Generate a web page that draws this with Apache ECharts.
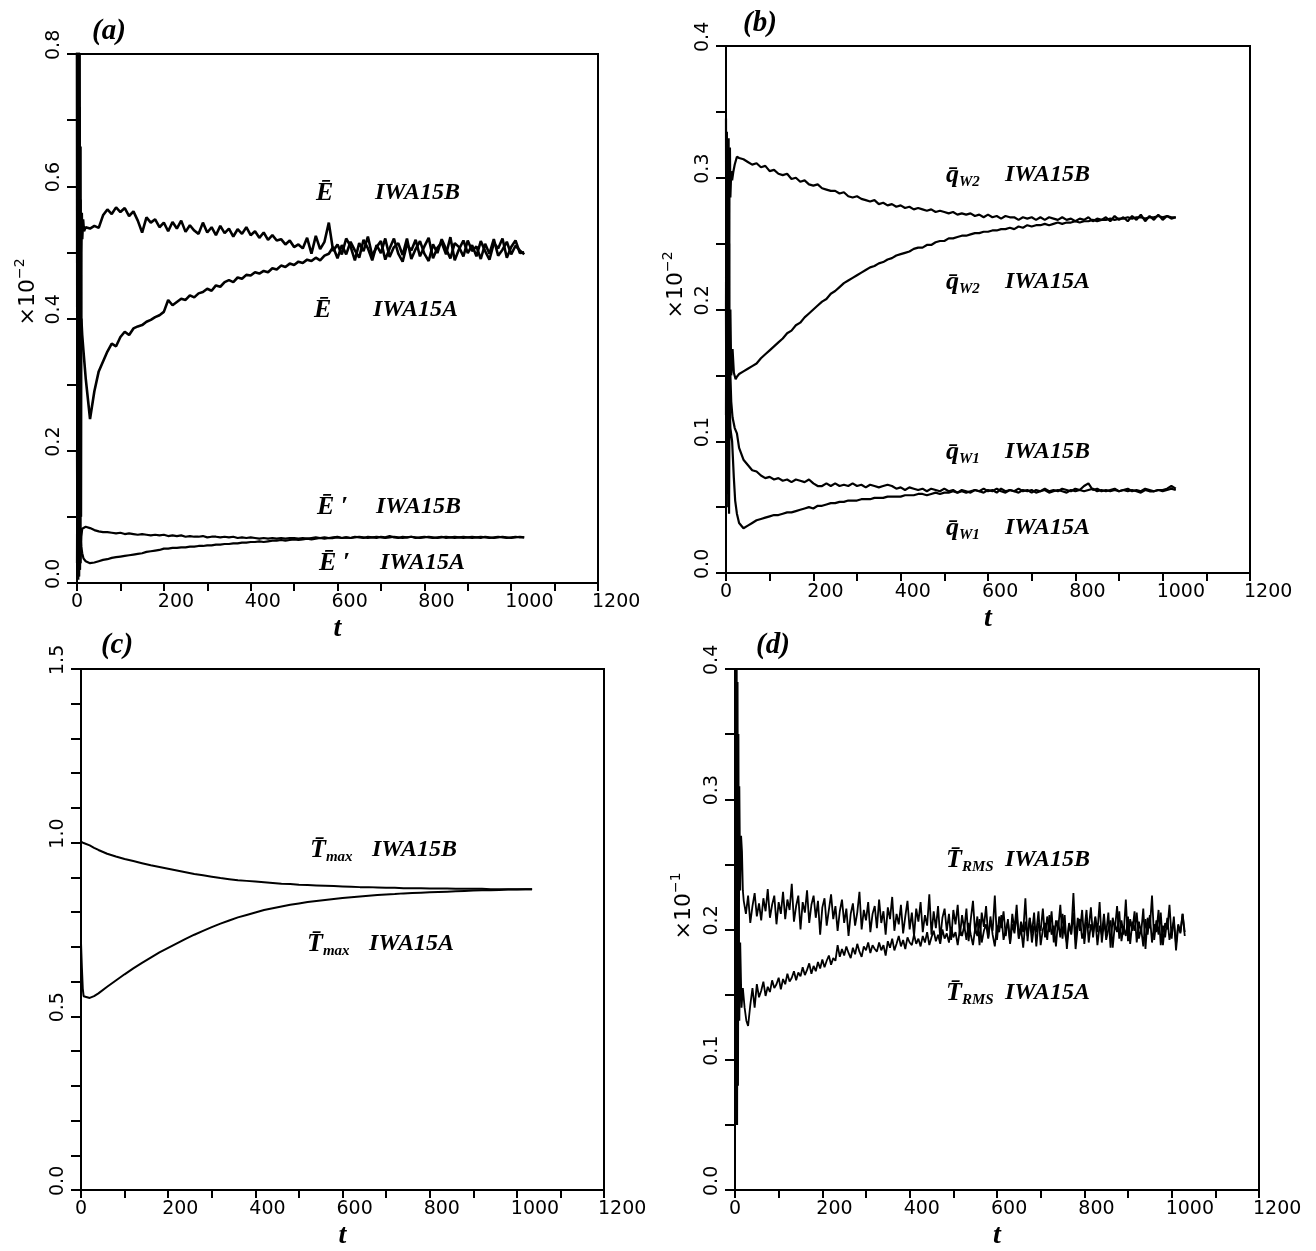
<!DOCTYPE html>
<html>
<head>
<meta charset="utf-8">
<script src="https://cdn.jsdelivr.net/npm/echarts@6/dist/echarts.min.js"></script>
<style>
  html, body { margin: 0; padding: 0; background: #fff; }
  #chart { width: 1316px; height: 1251px; }
</style>
</head>
<body>
<div id="chart"></div>
<script>
// ---------------- (a) mean kinetic energy E and E' ----------------
const ENERGY_T0 = 20, ENERGY_DT = 10;
const eMeanB_head = [[0,1.2],[1,0.05],[2,0.98],[3,0.02],[4,0.92],[5,0.04],[6,0.8],[7,0.03],[8,0.66],[9,0.1],[10,0.5],[11,0.56],[12,0.52],[14,0.55],[16,0.532]];
const eMeanB = [
  0.538,0.536,0.540,0.537,0.556,0.565,0.558,0.568,0.561,0.567,
  0.555,0.562,0.548,0.530,0.553,0.545,0.550,0.538,0.545,0.532,
  0.546,0.536,0.548,0.531,0.541,0.533,0.528,0.545,0.530,0.538,
  0.526,0.540,0.529,0.536,0.524,0.535,0.528,0.538,0.526,0.532,
  0.522,0.530,0.519,0.526,0.518,0.520,0.512,0.518,0.508,0.512,
  0.506,0.522,0.498,0.525,0.505,0.516,0.545,0.502,0.512,0.497,
  0.521,0.509,0.488,0.514,0.502,0.524,0.495,0.508,0.517,0.489,
  0.506,0.521,0.498,0.486,0.512,0.503,0.519,0.494,0.509,0.522,
  0.491,0.507,0.515,0.497,0.523,0.488,0.505,0.518,0.499,0.511,
  0.494,0.517,0.502,0.489,0.514,0.506,0.521,0.492,0.508,0.518,
  0.499,0.500
];
const eMeanA_head = [[0,1.1],[1,0.02],[2,0.9],[3,0.01],[4,0.86],[5,0.02],[6,0.72],[7,0.04],[8,0.58],[9,0.39],[10,0.4],[12,0.375],[15,0.35]];
const eMeanA = [
  0.310,0.248,0.290,0.320,0.335,0.350,0.362,0.358,0.372,0.380,
  0.375,0.385,0.388,0.390,0.395,0.398,0.402,0.405,0.410,0.428,
  0.420,0.425,0.430,0.428,0.435,0.432,0.438,0.440,0.445,0.442,
  0.450,0.448,0.455,0.458,0.455,0.462,0.460,0.466,0.465,0.470,
  0.468,0.472,0.470,0.476,0.474,0.480,0.478,0.483,0.481,0.486,
  0.484,0.489,0.487,0.492,0.488,0.495,0.498,0.508,0.491,0.511,
  0.497,0.516,0.503,0.492,0.519,0.506,0.488,0.511,0.499,0.521,
  0.493,0.508,0.514,0.496,0.521,0.490,0.505,0.517,0.498,0.487,
  0.512,0.499,0.520,0.505,0.491,0.514,0.508,0.494,0.518,0.502,
  0.509,0.490,0.513,0.498,0.520,0.495,0.504,0.516,0.497,0.510,
  0.503,0.497
];
const ePrimeB_head = [[0,0.03],[1,0.3],[2,0.02],[3,0.25],[4,0.03],[5,0.18],[6,0.02],[7,0.12],[8,0.03],[10,0.07],[12,0.082],[15,0.085]];
const ePrimeB = [
  0.085,0.083,0.080,0.078,0.077,0.077,0.076,0.075,0.076,0.074,
  0.075,0.074,0.073,0.074,0.073,0.072,0.073,0.072,0.073,0.071,
  0.072,0.071,0.072,0.070,0.071,0.070,0.070,0.071,0.069,0.070,
  0.070,0.069,0.070,0.069,0.070,0.068,0.069,0.068,0.069,0.068,
  0.067,0.068,0.067,0.068,0.067,0.068,0.067,0.068,0.068,0.067,
  0.068,0.067,0.068,0.069,0.068,0.069,0.068,0.069,0.070,0.068,
  0.069,0.068,0.070,0.069,0.068,0.070,0.069,0.068,0.070,0.069,
  0.071,0.069,0.068,0.070,0.069,0.070,0.068,0.069,0.070,0.069,
  0.068,0.069,0.070,0.068,0.069,0.070,0.069,0.068,0.069,0.070,
  0.069,0.068,0.070,0.069,0.068,0.069,0.070,0.069,0.068,0.069,
  0.070,0.069
];
const ePrimeA_head = [[0,0.2],[1,0.01],[2,0.15],[3,0.005],[4,0.12],[5,0.01],[6,0.09],[7,0.02],[8,0.07],[10,0.055],[12,0.045],[15,0.037]];
const ePrimeA = [
  0.033,0.030,0.031,0.033,0.035,0.036,0.038,0.039,0.040,0.041,
  0.042,0.043,0.044,0.045,0.047,0.048,0.049,0.050,0.052,0.052,
  0.053,0.053,0.054,0.054,0.055,0.055,0.056,0.056,0.057,0.057,
  0.058,0.058,0.059,0.059,0.060,0.060,0.061,0.061,0.062,0.062,
  0.063,0.062,0.063,0.064,0.064,0.065,0.064,0.065,0.066,0.065,
  0.066,0.067,0.066,0.067,0.068,0.067,0.068,0.068,0.069,0.068,
  0.069,0.068,0.069,0.070,0.069,0.068,0.069,0.070,0.069,0.068,
  0.069,0.070,0.069,0.068,0.069,0.070,0.069,0.068,0.069,0.070,
  0.069,0.068,0.069,0.070,0.069,0.068,0.069,0.070,0.069,0.068,
  0.069,0.070,0.069,0.068,0.069,0.070,0.069,0.068,0.069,0.070,
  0.069,0.069
];

// ---------------- (b) wall heat fluxes q_w2 and q_w1 ----------------
const FLUX_T0 = 30, FLUX_DT = 10;
const qw2B_head = [[0,0.345],[1,0.1],[2,0.335],[3,0.12],[4,0.32],[5,0.14],[6,0.33],[7,0.16],[8,0.31],[9,0.323],[10,0.285],[12,0.305],[14,0.298],[17,0.305],[20,0.31],[25,0.316]];
const qw2B = [
  0.315,0.314,0.312,0.310,0.311,0.308,0.309,0.305,0.306,0.303,
  0.302,0.303,0.299,0.300,0.297,0.298,0.295,0.294,0.295,0.292,
  0.291,0.290,0.290,0.288,0.289,0.286,0.285,0.286,0.284,0.283,
  0.282,0.283,0.280,0.281,0.279,0.280,0.278,0.279,0.277,0.278,
  0.276,0.277,0.276,0.275,0.276,0.274,0.275,0.274,0.273,0.274,
  0.272,0.273,0.272,0.273,0.271,0.272,0.270,0.272,0.270,0.271,
  0.269,0.271,0.270,0.270,0.268,0.270,0.269,0.270,0.268,0.270,
  0.268,0.270,0.269,0.268,0.270,0.268,0.269,0.267,0.269,0.268,
  0.270,0.267,0.269,0.268,0.270,0.267,0.271,0.268,0.270,0.267,
  0.271,0.268,0.272,0.267,0.271,0.268,0.272,0.268,0.271,0.269,
  0.270
];
const qw2A_head = [[0,0.2],[1,0.33],[2,0.13],[3,0.3],[4,0.12],[5,0.28],[6,0.13],[7,0.25],[8,0.14],[10,0.2],[12,0.15],[15,0.17],[18,0.152],[22,0.147],[25,0.149]];
const qw2A = [
  0.151,0.153,0.155,0.157,0.159,0.163,0.166,0.169,0.172,0.175,
  0.178,0.182,0.184,0.188,0.190,0.194,0.197,0.200,0.203,0.206,
  0.208,0.212,0.214,0.217,0.220,0.222,0.224,0.226,0.228,0.230,
  0.232,0.233,0.235,0.236,0.238,0.239,0.241,0.242,0.243,0.244,
  0.246,0.247,0.247,0.249,0.249,0.251,0.252,0.252,0.254,0.254,
  0.255,0.256,0.256,0.257,0.258,0.258,0.259,0.259,0.260,0.260,
  0.261,0.261,0.262,0.261,0.263,0.262,0.264,0.263,0.264,0.264,
  0.265,0.264,0.265,0.266,0.265,0.266,0.266,0.267,0.266,0.267,
  0.267,0.268,0.267,0.268,0.268,0.269,0.268,0.269,0.269,0.270,
  0.269,0.270,0.270,0.269,0.270,0.270,0.271,0.270,0.271,0.270,
  0.270
];
const qw1B_head = [[0,0.12],[1,0.25],[2,0.1],[3,0.22],[4,0.09],[5,0.2],[6,0.1],[7,0.18],[8,0.12],[10,0.15],[12,0.13],[15,0.118],[20,0.11],[25,0.106]];
const qw1B = [
  0.095,0.086,0.082,0.078,0.077,0.074,0.072,0.073,0.071,0.072,
  0.070,0.071,0.069,0.071,0.070,0.069,0.071,0.068,0.066,0.066,
  0.068,0.066,0.068,0.066,0.067,0.066,0.068,0.066,0.067,0.065,
  0.067,0.066,0.065,0.066,0.067,0.066,0.064,0.065,0.063,0.065,
  0.064,0.063,0.064,0.062,0.064,0.063,0.062,0.064,0.062,0.063,
  0.061,0.063,0.062,0.061,0.063,0.062,0.064,0.062,0.063,0.061,
  0.064,0.062,0.063,0.062,0.064,0.062,0.063,0.061,0.063,0.062,
  0.064,0.062,0.063,0.062,0.064,0.063,0.062,0.064,0.063,0.066,
  0.068,0.063,0.064,0.062,0.063,0.062,0.063,0.062,0.063,0.062,
  0.063,0.062,0.061,0.063,0.062,0.062,0.063,0.063,0.064,0.066,
  0.064
];
const qw1A_head = [[0,0.2],[1,0.08],[2,0.19],[3,0.06],[4,0.17],[5,0.05],[6,0.15],[7,0.045],[8,0.13],[10,0.11],[14,0.1],[18,0.072],[21,0.055],[25,0.045]];
const qw1A = [
  0.038,0.034,0.036,0.038,0.040,0.041,0.042,0.043,0.044,0.044,
  0.045,0.046,0.046,0.047,0.048,0.049,0.050,0.049,0.051,0.051,
  0.052,0.053,0.053,0.054,0.054,0.055,0.055,0.055,0.056,0.056,
  0.056,0.057,0.057,0.057,0.058,0.058,0.058,0.058,0.059,0.059,
  0.059,0.060,0.060,0.059,0.060,0.061,0.060,0.061,0.061,0.062,
  0.061,0.062,0.061,0.062,0.063,0.062,0.061,0.063,0.062,0.064,
  0.062,0.061,0.063,0.062,0.061,0.063,0.062,0.063,0.061,0.062,
  0.063,0.061,0.062,0.063,0.062,0.061,0.063,0.062,0.063,0.062,
  0.063,0.064,0.062,0.063,0.062,0.063,0.064,0.062,0.063,0.064,
  0.062,0.063,0.062,0.064,0.063,0.062,0.063,0.062,0.063,0.064,
  0.063
];

// ---------------- (c) maximum temperature ----------------
const tmaxTimes = [0,2,4,6,10,20,30,40,
  60,80,100,120,140,160,180,200,220,240,260,280,300,320,340,360,380,400,420,440,460,480,
  500,520,540,560,580,600,620,640,660,680,700,720,740,760,780,800,820,840,860,880,
  900,920,940,960,980,1000,1020,1035];
const tmaxB = [1.003,1.002,1.000,0.999,0.997,0.992,0.985,0.979,
  0.968,0.960,0.953,0.947,0.941,0.935,0.930,0.925,0.920,0.915,0.910,0.906,0.902,0.898,0.895,0.892,0.890,0.888,0.886,0.884,0.882,0.881,
  0.879,0.878,0.877,0.876,0.875,0.874,0.873,0.872,0.872,0.871,0.870,0.870,0.869,0.869,0.869,0.868,0.868,0.868,0.867,0.867,
  0.867,0.867,0.866,0.866,0.866,0.866,0.866,0.866];
const tmaxA = [0.710,0.640,0.580,0.558,0.553,0.553,0.558,0.566,
  0.585,0.603,0.621,0.638,0.654,0.669,0.684,0.697,0.710,0.723,0.735,0.746,0.757,0.767,0.776,0.785,0.792,0.799,0.806,0.811,0.816,0.821,
  0.825,0.829,0.832,0.835,0.838,0.841,0.843,0.845,0.847,0.849,0.851,0.852,0.854,0.855,0.856,0.857,0.858,0.859,0.860,0.861,
  0.862,0.863,0.863,0.864,0.865,0.865,0.866,0.866];

// ---------------- (d) RMS temperature ----------------
const RMS_DT = 5;
const rmsB_T0 = 20;
const rmsB_head = [[0,0.45],[1,0.08],[2,0.43],[3,0.1],[4,0.41],[5,0.12],[6,0.39],[7,0.15],[8,0.35],[9,0.18],[10,0.31],[12,0.23],[14,0.272],[16,0.26],[18,0.23]];
const rmsB = [
  0.222,0.212,0.226,0.205,0.218,0.228,0.210,0.220,0.207,0.224,0.214,0.231,0.209,0.219,0.226,0.204,0.221,0.212,0.229,0.208,
  0.223,0.215,0.235,0.206,0.218,0.226,0.200,0.221,0.213,0.230,0.205,0.219,0.226,0.209,0.222,0.196,0.217,0.224,0.203,0.215,
  0.227,0.208,0.218,0.199,0.214,0.223,0.205,0.216,0.195,0.212,0.220,0.203,0.213,0.229,0.200,0.215,0.207,0.221,0.198,0.212,
  0.218,0.201,0.223,0.205,0.214,0.196,0.217,0.208,0.225,0.199,0.212,0.204,0.219,0.197,0.210,0.222,0.200,0.213,0.195,0.216,
  0.206,0.221,0.198,0.211,0.203,0.227,0.196,0.214,0.201,0.218,0.193,0.209,0.216,0.199,0.212,0.192,0.215,0.204,0.219,0.195,
  0.211,0.200,0.216,0.191,0.208,0.222,0.197,0.210,0.188,0.213,0.202,0.218,0.194,0.207,0.199,0.226,0.192,0.210,0.201,0.214,
  0.195,0.208,0.190,0.212,0.200,0.219,0.193,0.206,0.198,0.224,0.191,0.209,0.197,0.213,0.187,0.205,0.199,0.216,0.194,0.210,
  0.198,0.214,0.190,0.207,0.200,0.219,0.193,0.211,0.185,0.204,0.197,0.228,0.192,0.209,0.199,0.215,0.189,0.206,0.201,0.217,
  0.194,0.210,0.198,0.221,0.190,0.205,0.197,0.213,0.186,0.209,0.200,0.218,0.193,0.207,0.196,0.223,0.191,0.208,0.199,0.214,
  0.190,0.206,0.197,0.216,0.185,0.209,0.201,0.226,0.192,0.207,0.196,0.213,0.188,0.205,0.200,0.219,0.193,0.210,0.184,0.203,
  0.198,0.212,0.195
];
const rmsA_T0 = 30;
const rmsA_head = [[0,0.42],[1,0.05],[2,0.4],[3,0.06],[4,0.37],[5,0.05],[6,0.3],[7,0.08],[8,0.24],[10,0.13],[12,0.19],[15,0.14],[18,0.155],[22,0.14],[26,0.13]];
const rmsA = [
  0.126,0.142,0.155,0.140,0.158,0.148,0.153,0.160,0.149,0.156,0.152,0.161,0.155,0.158,0.163,0.154,0.162,0.158,0.166,0.160,
  0.163,0.168,0.161,0.167,0.164,0.171,0.165,0.169,0.174,0.166,0.172,0.168,0.175,0.170,0.177,0.171,0.176,0.180,0.173,0.178,
  0.176,0.188,0.179,0.185,0.180,0.187,0.182,0.178,0.186,0.181,0.189,0.183,0.179,0.187,0.184,0.190,0.182,0.188,0.185,0.183,
  0.190,0.184,0.188,0.180,0.191,0.186,0.193,0.184,0.189,0.195,0.187,0.192,0.185,0.194,0.190,0.188,0.196,0.189,0.193,0.187,
  0.195,0.190,0.198,0.188,0.194,0.199,0.191,0.196,0.189,0.200,0.193,0.197,0.190,0.202,0.194,0.198,0.188,0.200,0.195,0.203,
  0.192,0.205,0.196,0.188,0.201,0.195,0.208,0.190,0.199,0.204,0.193,0.210,0.196,0.187,0.203,0.198,0.211,0.192,0.200,0.206,
  0.189,0.204,0.197,0.212,0.193,0.201,0.186,0.206,0.195,0.209,0.190,0.203,0.198,0.214,0.188,0.200,0.205,0.192,0.211,0.196,
  0.203,0.187,0.207,0.194,0.212,0.198,0.190,0.205,0.196,0.213,0.185,0.202,0.208,0.193,0.199,0.215,0.190,0.204,0.197,0.209,
  0.188,0.203,0.196,0.212,0.192,0.200,0.207,0.186,0.204,0.198,0.214,0.191,0.202,0.195,0.210,0.189,0.206,0.199,0.213,0.193,
  0.201,0.187,0.208,0.196,0.211,0.190,0.204,0.198,0.215,0.188,0.203,0.194,0.209,0.192,0.200,0.206,0.189,0.204,0.197,0.212,
  0.198
];

// ---------------- helpers ----------------
function track(head, t0, dt, tail) {
  return head.concat(tail.map((v, i) => [t0 + i * dt, v]));
}
function pairs(times, vals) {
  return times.map((t, i) => [t, vals[i]]);
}

const INK = '#000';
const TICK_FONT = 'DejaVu Sans';
const SERIF = 'Liberation Serif';

// panel frames (pixels)
const grids = [
  { left: 77,  top: 54,  width: 521, height: 529 },
  { left: 726, top: 46,  width: 524, height: 527 },
  { left: 81,  top: 669, width: 523, height: 525 },
  { left: 735, top: 669, width: 524, height: 524 }
].map(g => Object.assign({ show: true, borderColor: INK, borderWidth: 2, containLabel: false }, g));

function xAxisFor(idx) {
  return {
    gridIndex: idx, type: 'value', min: 0, max: 1200, interval: 100,
    axisLine: { show: true, onZero: false, lineStyle: { color: INK, width: 2 } },
    axisTick: { show: true, inside: false, length: 8, lineStyle: { color: INK, width: 2 } },
    splitLine: { show: false },
    axisLabel: {
      formatter: v => (v % 200 === 0 ? String(v) : ''),
      fontFamily: TICK_FONT, fontSize: 19, color: INK, margin: 10,
      align: 'left', padding: [0, 0, 0, -6]
    },
    name: 't', nameLocation: 'middle', nameGap: 32,
    nameTextStyle: { fontFamily: SERIF, fontStyle: 'italic', fontWeight: 'bold', fontSize: 28, color: INK }
  };
}
function yAxisFor(idx, max, interval, labelEvery) {
  return {
    gridIndex: idx, type: 'value', min: 0, max: max, interval: interval,
    axisLine: { show: true, onZero: false, lineStyle: { color: INK, width: 2 } },
    axisTick: { show: true, inside: false, length: 10, lineStyle: { color: INK, width: 2 } },
    splitLine: { show: false },
    axisLabel: {
      rotate: 90,
      formatter: v => {
        const k = Math.round(v * 100);
        return k % Math.round(labelEvery * 100) === 0 ? (k / 100).toFixed(1) : '';
      },
      fontFamily: TICK_FONT, fontSize: 19, color: INK, margin: 13,
      align: 'left', verticalAlign: 'bottom', padding: [0, 0, 0, -6]
    }
  };
}

function line(name, data, idx, width) {
  return {
    type: 'line', name: name, data: data, xAxisIndex: idx, yAxisIndex: idx,
    symbol: 'none', showSymbol: false, clip: true, silent: true, animation: false,
    lineStyle: { color: INK, width: width || 2 }
  };
}

// annotation text
const richStyles = {
  sym:  { fontFamily: SERIF, fontStyle: 'italic', fontWeight: 'bold', fontSize: 26, color: INK },
  sub:  { fontFamily: SERIF, fontStyle: 'italic', fontWeight: 'bold', fontSize: 15, color: INK, verticalAlign: 'bottom' },
  run:  { fontFamily: SERIF, fontStyle: 'italic', fontWeight: 'bold', fontSize: 24, color: INK }
};
function note(x, y, text) {
  return {
    type: 'text', x: x, y: y, silent: true,
    style: { text: text, rich: richStyles, align: 'left', verticalAlign: 'middle', lineHeight: 30 }
  };
}
function title(x, y, text) {
  return {
    type: 'text', x: x, y: y, silent: true,
    style: { text: text, fontFamily: SERIF, fontStyle: 'italic', fontWeight: 'bold', fontSize: 29, fill: INK, align: 'center', verticalAlign: 'middle' }
  };
}
function scale(x, y, power) {
  return {
    type: 'text', x: x, y: y, rotation: Math.PI / 2, silent: true,
    style: {
      text: '{m|\u00d710}{s|\u2212' + power + '}',
      rich: {
        m: { fontFamily: TICK_FONT, fontSize: 22, color: INK, lineHeight: 30 },
        s: { fontFamily: TICK_FONT, fontSize: 14, color: INK, verticalAlign: 'top' }
      },
      align: 'center', verticalAlign: 'middle'
    }
  };
}

const EBAR = 'E\u0304', QBAR = 'q\u0304', TBAR = 'T\u0304';

const graphics = [
  title(109, 32, '(a)'), title(760, 24, '(b)'), title(117, 646, '(c)'), title(773, 646, '(d)'),
  scale(28, 292, '2'), scale(676, 285, '2'), scale(684, 906, '1'),

  note(316, 193, '{sym|' + EBAR + '}'), note(375, 193, '{run|IWA15B}'),
  note(314, 310, '{sym|' + EBAR + '}'), note(373, 310, '{run|IWA15A}'),
  note(317, 507, '{sym|' + EBAR + ' \u2032}'), note(376, 507, '{run|IWA15B}'),
  note(319, 563, '{sym|' + EBAR + ' \u2032}'), note(380, 563, '{run|IWA15A}'),

  note(946, 175, '{sym|' + QBAR + '}{sub|W2}'), note(1005, 175, '{run|IWA15B}'),
  note(946, 282, '{sym|' + QBAR + '}{sub|W2}'), note(1005, 282, '{run|IWA15A}'),
  note(946, 452, '{sym|' + QBAR + '}{sub|W1}'), note(1005, 452, '{run|IWA15B}'),
  note(946, 528, '{sym|' + QBAR + '}{sub|W1}'), note(1005, 528, '{run|IWA15A}'),

  note(310, 850, '{sym|' + TBAR + '}{sub|max}'), note(372, 850, '{run|IWA15B}'),
  note(307, 944, '{sym|' + TBAR + '}{sub|max}'), note(369, 944, '{run|IWA15A}'),

  note(946, 860, '{sym|' + TBAR + '}{sub|RMS}'), note(1005, 860, '{run|IWA15B}'),
  note(946, 993, '{sym|' + TBAR + '}{sub|RMS}'), note(1005, 993, '{run|IWA15A}')
];

const option = {
  backgroundColor: '#fff',
  animation: false,
  grid: grids,
  xAxis: [0, 1, 2, 3].map(xAxisFor),
  yAxis: [
    yAxisFor(0, 0.8, 0.1, 0.2),
    yAxisFor(1, 0.4, 0.05, 0.1),
    yAxisFor(2, 1.5, 0.1, 0.5),
    yAxisFor(3, 0.4, 0.05, 0.1)
  ],
  series: [
    line('E IWA15B', track(eMeanB_head, ENERGY_T0, ENERGY_DT, eMeanB), 0, 2.6),
    line('E IWA15A', track(eMeanA_head, ENERGY_T0, ENERGY_DT, eMeanA), 0, 2.6),
    line("E' IWA15B", track(ePrimeB_head, ENERGY_T0, ENERGY_DT, ePrimeB), 0, 2.2),
    line("E' IWA15A", track(ePrimeA_head, ENERGY_T0, ENERGY_DT, ePrimeA), 0, 2.2),

    line('qw2 IWA15B', track(qw2B_head, FLUX_T0, FLUX_DT, qw2B), 1, 2.2),
    line('qw2 IWA15A', track(qw2A_head, FLUX_T0, FLUX_DT, qw2A), 1, 2.2),
    line('qw1 IWA15B', track(qw1B_head, FLUX_T0, FLUX_DT, qw1B), 1, 2.2),
    line('qw1 IWA15A', track(qw1A_head, FLUX_T0, FLUX_DT, qw1A), 1, 2.2),

    line('Tmax IWA15B', pairs(tmaxTimes, tmaxB), 2, 2),
    line('Tmax IWA15A', pairs(tmaxTimes, tmaxA), 2, 2),

    line('TRMS IWA15B', track(rmsB_head, rmsB_T0, RMS_DT, rmsB), 3, 1.8),
    line('TRMS IWA15A', track(rmsA_head, rmsA_T0, RMS_DT, rmsA), 3, 1.8)
  ],
  graphic: graphics
};

const chart = echarts.init(document.getElementById('chart'), null, { renderer: 'canvas' });
chart.setOption(option);
</script>
</body>
</html>
